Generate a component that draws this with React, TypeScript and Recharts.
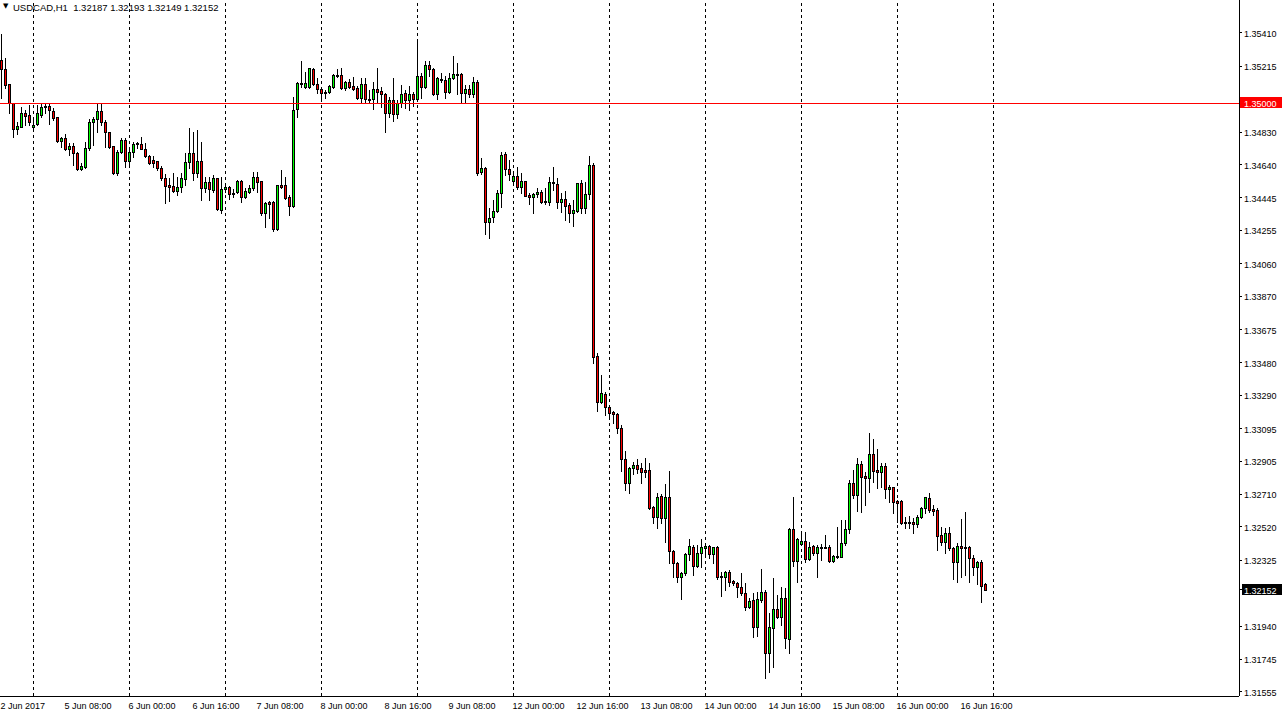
import { ComposedChart, Bar, XAxis, YAxis, ReferenceLine } from "recharts";

const FONT = "'Liberation Sans', Arial, sans-serif";

// USDCAD H1 candles, 2 Jun 16:00 .. 16 Jun 22:00
const opens = [
  1.35252, 1.35199, 1.35112, 1.35000, 1.34848, 1.34860, 1.34942, 1.34931, 1.34860, 1.34878,
  1.34931, 1.34977, 1.34983, 1.34954, 1.34919, 1.34778, 1.34796, 1.34731, 1.34749, 1.34708,
  1.34614, 1.34626, 1.34737, 1.34889, 1.34907, 1.34954, 1.34889, 1.34831, 1.34749, 1.34591,
  1.34714, 1.34784, 1.34661, 1.34714, 1.34761, 1.34761, 1.34731, 1.34691, 1.34667, 1.34661,
  1.34620, 1.34562, 1.34521, 1.34515, 1.34486, 1.34509, 1.34556, 1.34655, 1.34708, 1.34591,
  1.34661, 1.34503, 1.34538, 1.34492, 1.34562, 1.34375, 1.34497, 1.34509, 1.34474, 1.34480,
  1.34544, 1.34451, 1.34480, 1.34503, 1.34568, 1.34544, 1.34357, 1.34421, 1.34421, 1.34263,
  1.34521, 1.34521, 1.34451, 1.34398, 1.34965, 1.35117, 1.35094, 1.35094, 1.35199, 1.35112,
  1.35082, 1.35065, 1.35065, 1.35094, 1.35159, 1.35165, 1.35088, 1.35123, 1.35100, 1.35088,
  1.35030, 1.35112, 1.35024, 1.35024, 1.35082, 1.35071, 1.35054, 1.34942, 1.35018, 1.34937,
  1.35000, 1.35059, 1.35018, 1.35054, 1.35024, 1.35159, 1.35094, 1.35223, 1.35199, 1.35054,
  1.35141, 1.35135, 1.35065, 1.35147, 1.35171, 1.35171, 1.35059, 1.35082, 1.35054, 1.35123,
  1.34597, 1.34620, 1.34304, 1.34334, 1.34369, 1.34474, 1.34703, 1.34614, 1.34544, 1.34574,
  1.34509, 1.34544, 1.34463, 1.34451, 1.34469, 1.34480, 1.34427, 1.34421, 1.34538, 1.34527,
  1.34421, 1.34439, 1.34404, 1.34357, 1.34369, 1.34532, 1.34386, 1.34469, 1.34638, 1.33521,
  1.33251, 1.33299, 1.33222, 1.33193, 1.33182, 1.33099, 1.32918, 1.32777, 1.32865, 1.32883,
  1.32865, 1.32854, 1.32854, 1.32637, 1.32579, 1.32702, 1.32573, 1.32696, 1.32380, 1.32309,
  1.32228, 1.32251, 1.32363, 1.32403, 1.32292, 1.32368, 1.32397, 1.32409, 1.32363, 1.32403,
  1.32234, 1.32228, 1.32257, 1.32204, 1.32192, 1.32169, 1.32134, 1.32052, 1.32093, 1.31935,
  1.32093, 1.32140, 1.31783, 1.31929, 1.32040, 1.31994, 1.32105, 1.31865, 1.32508, 1.32321,
  1.32421, 1.32438, 1.32333, 1.32409, 1.32368, 1.32403, 1.32397, 1.32403, 1.32321, 1.32345,
  1.32345, 1.32426, 1.32508, 1.32777, 1.32708, 1.32889, 1.32819, 1.32807, 1.32948, 1.32854,
  1.32842, 1.32877, 1.32742, 1.32754, 1.32672, 1.32672, 1.32549, 1.32543, 1.32549, 1.32538,
  1.32579, 1.32631, 1.32690, 1.32625, 1.32620, 1.32474, 1.32432, 1.32485, 1.32397, 1.32315,
  1.32409, 1.32403, 1.32403, 1.32339, 1.32286, 1.32315, 1.32187,
];

const highs = [
  1.35405, 1.35264, 1.35112, 1.35000, 1.34889, 1.34977, 1.34960, 1.34989, 1.34907, 1.34989,
  1.34995, 1.34995, 1.34995, 1.34971, 1.34919, 1.34802, 1.34820, 1.34766, 1.34766, 1.34714,
  1.34649, 1.34772, 1.34907, 1.34919, 1.35000, 1.35000, 1.34901, 1.34831, 1.34749, 1.34726,
  1.34796, 1.34796, 1.34737, 1.34772, 1.34772, 1.34802, 1.34766, 1.34697, 1.34691, 1.34661,
  1.34632, 1.34586, 1.34562, 1.34591, 1.34568, 1.34591, 1.34708, 1.34854, 1.34831, 1.34843,
  1.34772, 1.34568, 1.34568, 1.34580, 1.34562, 1.34568, 1.34515, 1.34515, 1.34497, 1.34550,
  1.34550, 1.34503, 1.34521, 1.34597, 1.34597, 1.34544, 1.34421, 1.34427, 1.34427, 1.34521,
  1.34609, 1.34568, 1.34463, 1.35036, 1.35123, 1.35246, 1.35182, 1.35205, 1.35205, 1.35147,
  1.35094, 1.35077, 1.35106, 1.35171, 1.35199, 1.35205, 1.35129, 1.35141, 1.35153, 1.35100,
  1.35147, 1.35147, 1.35077, 1.35123, 1.35205, 1.35094, 1.35059, 1.35036, 1.35147, 1.35018,
  1.35106, 1.35077, 1.35100, 1.35065, 1.35369, 1.35176, 1.35246, 1.35246, 1.35205, 1.35153,
  1.35176, 1.35159, 1.35176, 1.35276, 1.35234, 1.35176, 1.35106, 1.35106, 1.35153, 1.35135,
  1.34679, 1.34626, 1.34386, 1.34433, 1.34492, 1.34714, 1.34714, 1.34667, 1.34591, 1.34626,
  1.34591, 1.34544, 1.34474, 1.34474, 1.34503, 1.34492, 1.34503, 1.34568, 1.34626, 1.34562,
  1.34474, 1.34486, 1.34415, 1.34433, 1.34532, 1.34550, 1.34538, 1.34691, 1.34649, 1.33538,
  1.33410, 1.33310, 1.33228, 1.33199, 1.33187, 1.33117, 1.32965, 1.32871, 1.32900, 1.32918,
  1.32894, 1.32924, 1.32894, 1.32643, 1.32719, 1.32714, 1.32772, 1.32848, 1.32386, 1.32315,
  1.32257, 1.32368, 1.32450, 1.32415, 1.32415, 1.32450, 1.32421, 1.32415, 1.32403, 1.32409,
  1.32257, 1.32263, 1.32269, 1.32210, 1.32198, 1.32251, 1.32192, 1.32105, 1.32134, 1.32140,
  1.32274, 1.32152, 1.32017, 1.32222, 1.32123, 1.32169, 1.32163, 1.32514, 1.32696, 1.32456,
  1.32491, 1.32491, 1.32432, 1.32415, 1.32415, 1.32421, 1.32474, 1.32415, 1.32357, 1.32520,
  1.32561, 1.32561, 1.32795, 1.32854, 1.32924, 1.32906, 1.32842, 1.33070, 1.33035, 1.32976,
  1.32894, 1.32894, 1.32766, 1.32754, 1.32678, 1.32678, 1.32579, 1.32585, 1.32573, 1.32591,
  1.32637, 1.32696, 1.32719, 1.32649, 1.32631, 1.32520, 1.32514, 1.32520, 1.32403, 1.32426,
  1.32567, 1.32608, 1.32409, 1.32357, 1.32321, 1.32327, 1.32193,
];

const lows = [
  1.35030, 1.35088, 1.34942, 1.34802, 1.34820, 1.34860, 1.34872, 1.34872, 1.34854, 1.34872,
  1.34919, 1.34942, 1.34878, 1.34901, 1.34772, 1.34743, 1.34726, 1.34697, 1.34638, 1.34609,
  1.34609, 1.34620, 1.34726, 1.34755, 1.34831, 1.34872, 1.34743, 1.34737, 1.34586, 1.34580,
  1.34708, 1.34626, 1.34626, 1.34685, 1.34737, 1.34731, 1.34685, 1.34644, 1.34626, 1.34609,
  1.34550, 1.34415, 1.34427, 1.34480, 1.34463, 1.34480, 1.34521, 1.34620, 1.34550, 1.34568,
  1.34433, 1.34480, 1.34433, 1.34480, 1.34375, 1.34357, 1.34480, 1.34439, 1.34451, 1.34474,
  1.34421, 1.34445, 1.34474, 1.34492, 1.34480, 1.34346, 1.34275, 1.34328, 1.34252, 1.34258,
  1.34503, 1.34439, 1.34346, 1.34392, 1.34919, 1.35094, 1.35088, 1.35088, 1.35106, 1.35059,
  1.35030, 1.35030, 1.35059, 1.35088, 1.35153, 1.35082, 1.35077, 1.35088, 1.35077, 1.35024,
  1.35000, 1.35000, 1.35000, 1.34965, 1.35006, 1.34977, 1.34831, 1.34919, 1.34895, 1.34913,
  1.34977, 1.34971, 1.34960, 1.34983, 1.35012, 1.35030, 1.35088, 1.35159, 1.35048, 1.35024,
  1.35123, 1.35030, 1.35059, 1.35141, 1.35054, 1.35000, 1.35000, 1.35036, 1.35036, 1.34580,
  1.34586, 1.34235, 1.34211, 1.34304, 1.34363, 1.34392, 1.34580, 1.34550, 1.34538, 1.34497,
  1.34474, 1.34457, 1.34410, 1.34357, 1.34451, 1.34415, 1.34410, 1.34404, 1.34492, 1.34386,
  1.34363, 1.34316, 1.34304, 1.34281, 1.34363, 1.34357, 1.34357, 1.34439, 1.33479, 1.33199,
  1.33245, 1.33176, 1.33170, 1.33128, 1.33070, 1.32848, 1.32737, 1.32719, 1.32831, 1.32836,
  1.32777, 1.32813, 1.32625, 1.32543, 1.32514, 1.32543, 1.32432, 1.32309, 1.32228, 1.32198,
  1.32099, 1.32240, 1.32327, 1.32240, 1.32286, 1.32286, 1.32357, 1.32339, 1.32309, 1.32216,
  1.32117, 1.32152, 1.32175, 1.32181, 1.32111, 1.32123, 1.32035, 1.32046, 1.31877, 1.31883,
  1.32081, 1.31637, 1.31672, 1.31701, 1.31988, 1.31947, 1.31812, 1.31783, 1.32292, 1.32198,
  1.32415, 1.32315, 1.32327, 1.32357, 1.32228, 1.32327, 1.32397, 1.32315, 1.32315, 1.32339,
  1.32345, 1.32415, 1.32485, 1.32690, 1.32614, 1.32608, 1.32649, 1.32725, 1.32783, 1.32748,
  1.32754, 1.32690, 1.32666, 1.32602, 1.32549, 1.32538, 1.32514, 1.32514, 1.32485, 1.32520,
  1.32573, 1.32602, 1.32608, 1.32591, 1.32386, 1.32415, 1.32368, 1.32386, 1.32216, 1.32198,
  1.32228, 1.32240, 1.32198, 1.32240, 1.32187, 1.32081, 1.32149,
];

const closes = [
  1.35199, 1.35106, 1.35000, 1.34848, 1.34866, 1.34942, 1.34925, 1.34889, 1.34872, 1.34942,
  1.34977, 1.34983, 1.34960, 1.34913, 1.34778, 1.34796, 1.34731, 1.34749, 1.34708, 1.34614,
  1.34632, 1.34737, 1.34889, 1.34907, 1.34954, 1.34889, 1.34831, 1.34743, 1.34591, 1.34714,
  1.34784, 1.34661, 1.34714, 1.34761, 1.34766, 1.34731, 1.34691, 1.34649, 1.34649, 1.34620,
  1.34562, 1.34515, 1.34509, 1.34486, 1.34509, 1.34562, 1.34655, 1.34708, 1.34591, 1.34661,
  1.34503, 1.34538, 1.34497, 1.34562, 1.34380, 1.34497, 1.34509, 1.34469, 1.34469, 1.34544,
  1.34451, 1.34486, 1.34503, 1.34568, 1.34538, 1.34357, 1.34415, 1.34410, 1.34263, 1.34521,
  1.34509, 1.34445, 1.34398, 1.34960, 1.35117, 1.35112, 1.35117, 1.35205, 1.35112, 1.35082,
  1.35059, 1.35059, 1.35100, 1.35165, 1.35165, 1.35088, 1.35123, 1.35094, 1.35082, 1.35030,
  1.35112, 1.35024, 1.35018, 1.35082, 1.35065, 1.35054, 1.34942, 1.35018, 1.34937, 1.35000,
  1.35054, 1.35018, 1.35054, 1.35024, 1.35159, 1.35094, 1.35223, 1.35199, 1.35054, 1.35147,
  1.35135, 1.35065, 1.35147, 1.35171, 1.35165, 1.35059, 1.35082, 1.35054, 1.35123, 1.34591,
  1.34620, 1.34304, 1.34328, 1.34369, 1.34474, 1.34697, 1.34614, 1.34586, 1.34574, 1.34509,
  1.34544, 1.34457, 1.34451, 1.34469, 1.34480, 1.34421, 1.34421, 1.34538, 1.34532, 1.34421,
  1.34439, 1.34398, 1.34357, 1.34375, 1.34532, 1.34386, 1.34469, 1.34638, 1.33515, 1.33251,
  1.33304, 1.33222, 1.33187, 1.33182, 1.33099, 1.32918, 1.32777, 1.32865, 1.32883, 1.32859,
  1.32842, 1.32842, 1.32631, 1.32579, 1.32696, 1.32573, 1.32696, 1.32380, 1.32309, 1.32228,
  1.32251, 1.32363, 1.32409, 1.32292, 1.32368, 1.32403, 1.32409, 1.32363, 1.32403, 1.32228,
  1.32228, 1.32257, 1.32198, 1.32192, 1.32169, 1.32134, 1.32052, 1.32087, 1.31935, 1.32099,
  1.32140, 1.31783, 1.31935, 1.32040, 1.31994, 1.32105, 1.31871, 1.32508, 1.32321, 1.32450,
  1.32438, 1.32333, 1.32403, 1.32368, 1.32403, 1.32397, 1.32403, 1.32321, 1.32351, 1.32351,
  1.32426, 1.32508, 1.32777, 1.32708, 1.32889, 1.32813, 1.32807, 1.32948, 1.32848, 1.32842,
  1.32877, 1.32742, 1.32754, 1.32666, 1.32660, 1.32543, 1.32543, 1.32549, 1.32538, 1.32579,
  1.32631, 1.32696, 1.32620, 1.32614, 1.32468, 1.32432, 1.32485, 1.32397, 1.32315, 1.32409,
  1.32397, 1.32397, 1.32339, 1.32286, 1.32315, 1.32175, 1.32152,
];

const timeTicks = [0, 16, 32, 48, 64, 80, 96, 112, 128, 144, 160, 176, 192, 208, 224, 240];
const timeLabels = [
  "2 Jun 2017", "5 Jun 08:00", "6 Jun 00:00", "6 Jun 16:00", "7 Jun 08:00", "8 Jun 00:00",
  "8 Jun 16:00", "9 Jun 08:00", "12 Jun 00:00", "12 Jun 16:00", "13 Jun 08:00", "14 Jun 00:00",
  "14 Jun 16:00", "15 Jun 08:00", "16 Jun 00:00", "16 Jun 16:00",
];
// bar index where each new day starts (dotted separators)
const dayStarts = [8, 32, 56, 80, 104, 128, 152, 176, 200, 224, 248];

const levelPrice = 1.35;
const lastPrice = 1.32152;
const priceTicks = [
  1.3541, 1.35215, levelPrice, 1.3483, 1.3464, 1.34445, 1.34255, 1.3406, 1.3387, 1.33675,
  1.3348, 1.3329, 1.33095, 1.32905, 1.3271, 1.3252, 1.32325, lastPrice, 1.3194, 1.31745, 1.31555,
];

const candles = opens.map((open, i) => ({
  i,
  open,
  high: highs[i],
  low: lows[i],
  close: closes[i],
  range: [lows[i], highs[i]],
}));

function Candle(props: any) {
  const { x, y, width, height, payload } = props;
  if (x == null || !payload) return null;
  const cx = Math.round(x + width / 2 - 0.5) + 0.5;
  const yHi = Math.min(y, y + height);
  const span = Math.abs(height);
  const k = span / (payload.high - payload.low || 1);
  const yO = yHi + (payload.high - payload.open) * k;
  const yC = yHi + (payload.high - payload.close) * k;
  const top = Math.round(Math.min(yO, yC));
  const bot = Math.round(Math.max(yO, yC));
  const up = payload.close >= payload.open;
  return (
    <g shapeRendering="crispEdges">
      <line x1={cx} x2={cx} y1={Math.round(yHi)} y2={Math.round(yHi + span) + 1} stroke="#000" />
      {bot - top < 1 ? (
        <line x1={cx - 1.5} x2={cx + 1.5} y1={top + 0.5} y2={top + 0.5} stroke="#000" />
      ) : (
        <rect x={cx - 1} y={top + 0.5} width={2} height={bot - top} fill={up ? "#00ff00" : "#ff0000"} stroke="#000" />
      )}
    </g>
  );
}

function PriceTick(props: any) {
  const { x, y, payload } = props;
  const v = payload.value;
  const label = v.toFixed(5);
  if (v === levelPrice || v === lastPrice) {
    const red = v === levelPrice;
    return (
      <g>
        <rect x={red ? x - 4 : x - 2} y={Math.round(y) - 6} width={red ? 42 : 40} height={11} fill={red ? "#ff0000" : "#000"} />
        <text x={x} y={y + 4} fill="#fff" fontSize={9} fontFamily={FONT}>{label}</text>
      </g>
    );
  }
  return (
    <text x={x} y={y + 4} fill="#000" fontSize={9} fontFamily={FONT}>{label}</text>
  );
}

function TimeTick(props: any) {
  const { x, y, payload } = props;
  const label = timeLabels[timeTicks.indexOf(payload.value)];
  return (
    <text x={x - 1} y={y + 13} fill="#000" fontSize={9} fontFamily={FONT}>{label}</text>
  );
}

export default function App() {
  return (
    <div style={{ position: "absolute", left: 0, top: 0, width: 1284, height: 718, background: "#fff", overflow: "hidden" }}>
      <ComposedChart width={1284} height={718} data={candles} margin={{ top: 0, right: 0, bottom: 0, left: 0 }}>
        <XAxis
          dataKey="i"
          type="number"
          domain={[-0.375, 309.375]}
          allowDataOverflow
          ticks={timeTicks}
          interval={0}
          height={22}
          tick={<TimeTick />}
          tickLine={false}
          tickSize={0}
          tickMargin={0}
          axisLine={{ stroke: "#000", shapeRendering: "crispEdges" }}
        />
        <YAxis
          orientation="right"
          type="number"
          domain={[1.31531, 1.35603]}
          allowDataOverflow
          ticks={priceTicks}
          interval={0}
          width={45}
          tick={<PriceTick />}
          tickLine={{ stroke: "#000", shapeRendering: "crispEdges" }}
          tickSize={3}
          tickMargin={2}
          axisLine={{ stroke: "#000", shapeRendering: "crispEdges" }}
        />
        {dayStarts.map((d) => (
          <ReferenceLine key={d} x={d} stroke="#000" strokeDasharray="3 3" shapeRendering="crispEdges" zIndex={250} />
        ))}
        <Bar dataKey="range" barSize={4} isAnimationActive={false} shape={(p: any) => <Candle {...p} />} />
        <ReferenceLine y={levelPrice} stroke="#ff0000" shapeRendering="crispEdges" zIndex={450} />
      </ComposedChart>
      <div style={{ position: "absolute", left: 3, top: 2, fontSize: 7, lineHeight: "9px", fontFamily: "'DejaVu Sans', sans-serif", color: "#000" }}>▼</div>
      <div style={{ position: "absolute", left: 13, top: 2, fontSize: 9.5, lineHeight: "12px", fontFamily: FONT, color: "#000", whiteSpace: "pre" }}>
        USDCAD,H1  1.32187 1.32193 1.32149 1.32152
      </div>
    </div>
  );
}
